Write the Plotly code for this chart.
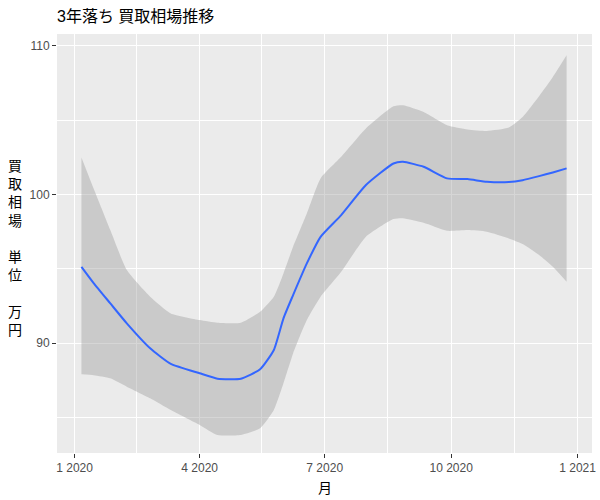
import plotly.graph_objects as go

# Smoothed series (loess fit) with 95% confidence band
dates = ["2020-01-06", "2020-01-15", "2020-01-27", "2020-02-08", "2020-02-25",
         "2020-03-11", "2020-04-01", "2020-04-14", "2020-05-01", "2020-05-15",
         "2020-05-25", "2020-06-01", "2020-06-08", "2020-06-18", "2020-06-28",
         "2020-07-13", "2020-07-31", "2020-08-20", "2020-08-27", "2020-09-11",
         "2020-09-28", "2020-10-13", "2020-10-27", "2020-11-12", "2020-11-22",
         "2020-12-04", "2020-12-14", "2020-12-24"]
fit = [95.13, 94.02, 92.67, 91.33, 89.65,
       88.60, 87.97, 87.61, 87.61, 88.24,
       89.54, 91.67, 93.23, 95.36, 97.15,
       98.61, 100.63, 102.08, 102.19, 101.86,
       101.08, 101.03, 100.85, 100.83, 100.96,
       101.23, 101.48, 101.75]
upper = [102.49, 100.36, 97.60, 94.91, 93.12,
         92.00, 91.55, 91.37, 91.37, 92.11,
         93.12, 94.69, 96.48, 98.72, 101.08,
         102.53, 104.44, 105.93, 106.00, 105.55,
         104.66, 104.37, 104.27, 104.50, 105.21,
         106.61, 107.90, 109.36]
lower = [87.90, 87.84, 87.63, 87.07, 86.29,
         85.50, 84.50, 83.82, 83.82, 84.27,
         85.50, 87.30, 89.31, 91.55, 93.12,
         94.80, 97.15, 98.34, 98.39, 98.09,
         97.55, 97.60, 97.49, 97.04, 96.66,
         95.92, 95.13, 94.13]

x_ticks = ["2020-01-01", "2020-04-01", "2020-07-01", "2020-10-01", "2021-01-01"]
x_tick_labels = ["1 2020", "4 2020", "7 2020", "10 2020", "1 2021"]
x_minor = ["2020-02-15", "2020-05-16", "2020-08-16", "2020-11-16"]
y_ticks = [90, 100, 110]
y_minor = [85, 95, 105]

title = "3年落ち 買取相場推移"
x_title = "月"
y_title_chars = ["買", "取", "相", "場", "", "単", "位", "", "万", "円"]

font_family = "Liberation Sans, Noto Sans CJK JP, Arial, sans-serif"

fig = go.Figure()
fig.add_trace(go.Scatter(x=dates, y=lower, mode="lines",
                         line=dict(width=0, shape="spline", smoothing=0.5),
                         hoverinfo="skip", showlegend=False))
fig.add_trace(go.Scatter(x=dates, y=upper, mode="lines", fill="tonexty",
                         fillcolor="rgba(153,153,153,0.4)",
                         line=dict(width=0, shape="spline", smoothing=0.5),
                         hoverinfo="skip", showlegend=False))
fig.add_trace(go.Scatter(x=dates, y=fit, mode="lines",
                         line=dict(color="#3366FF", width=2, shape="spline", smoothing=0.5),
                         showlegend=False))

fig.update_layout(
    width=600, height=500,
    margin=dict(l=57, r=8, t=34, b=47, autoexpand=False),
    paper_bgcolor="white",
    plot_bgcolor="#EBEBEB",
    font=dict(family=font_family, color="#4D4D4D", size=12),
    title=dict(text=title, x=57 / 600, xanchor="left", y=1 - 16 / 500, yanchor="middle",
               font=dict(size=16, color="black", family=font_family), automargin=False),
    xaxis=dict(
        type="date", automargin=False,
        range=["2019-12-19 05:00", "2021-01-11 12:00"],
        tickmode="array", tickvals=x_ticks, ticktext=x_tick_labels,
        showgrid=True, gridcolor="white", gridwidth=1.1,
        minor=dict(tickmode="array", tickvals=x_minor, showgrid=True,
                   gridcolor="white", gridwidth=0.5, ticks=""),
        ticks="outside", ticklen=4, tickcolor="#333333", tickwidth=1,
        tickfont=dict(size=12, color="#4D4D4D"),
        zeroline=False, showline=False,
    ),
    yaxis=dict(
        automargin=False,
        range=[82.61, 110.79],
        tickmode="array", tickvals=y_ticks,
        showgrid=True, gridcolor="white", gridwidth=1.1,
        minor=dict(tickmode="array", tickvals=y_minor, showgrid=True,
                   gridcolor="white", gridwidth=0.5, ticks=""),
        ticks="outside", ticklen=4, tickcolor="#333333", tickwidth=1,
        tickfont=dict(size=12, color="#4D4D4D"),
        zeroline=False, showline=False,
    ),
)

# x-axis title
fig.add_annotation(
    text=x_title, xref="paper", yref="paper",
    x=0.5, y=-35 / 419, xanchor="center", yanchor="middle", showarrow=False,
    font=dict(size=14, color="black", family=font_family),
)
# y-axis title (stacked vertical characters)
fig.add_annotation(
    text="<br>".join(y_title_chars),
    xref="paper", yref="paper", x=-42 / 535, y=0.5 - 4 / 419,
    xanchor="center", yanchor="middle", showarrow=False,
    font=dict(size=14, color="black", family=font_family),
)

fig.write_html("out.html", config={"displayModeBar": False},
               post_script="document.body.style.margin='0';document.body.style.overflow='hidden';")
